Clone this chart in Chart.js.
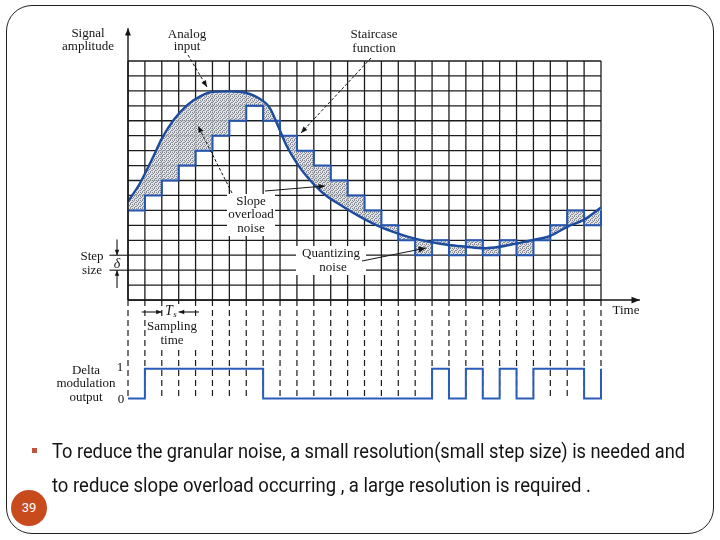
<!DOCTYPE html>
<html>
<head>
<meta charset="utf-8">
<script src="https://cdn.jsdelivr.net/npm/chart.js@4.4.1/dist/chart.umd.min.js"></script>
<style>
  html, body { margin: 0; padding: 0; background: #fff; }
  #wrap { position: relative; width: 720px; height: 540px; overflow: hidden; }
  #chart { position: absolute; left: 0; top: 0; }
  #frame { position: absolute; left: 6px; top: 5px; width: 708px; height: 529px; border: 1.3px solid #222; border-radius: 26px; box-sizing: border-box; pointer-events: none; }
  .txt { position: absolute; left: 52px; white-space: nowrap; font-family: "Liberation Sans Narrow", "Roboto", sans-serif; font-size: 20px; line-height: 20px; color: #141414; transform-origin: 0 0; }
  #l1 { top: 441px; }
  #l2 { top: 475px; }
  #bullet { position: absolute; left: 32px; top: 448px; width: 5px; height: 5px; background: #c0573a; }
  #page { position: absolute; left: 11px; top: 490px; width: 36px; height: 36px; border-radius: 50%; background: #c84b1e; color: #fff; font: 13px "Liberation Sans Narrow", "Roboto", sans-serif; text-align: center; line-height: 36px; }
</style>
</head>
<body>
<div id="wrap">
  <canvas id="chart" width="720" height="540"></canvas>
  <div id="frame"></div>
  <div id="bullet"></div>
  <div class="txt" id="l1">To reduce the granular noise, a small resolution(small step size) is needed and</div>
  <div class="txt" id="l2">to reduce slope overload occurring , a large resolution is required .</div>
  <div id="page">39</div>
</div>
<script>
// sample index k = 0..28 (one grid column = one sampling period Ts)
const sampleIndex = [0, 1, 2, 3, 4, 5, 6, 7, 8, 9, 10, 11, 12, 13, 14, 15, 16, 17, 18, 19, 20, 21, 22, 23, 24, 25, 26, 27, 28];
// staircase level (in steps of delta) held during each sampling period
const staircase = [6, 7, 8, 9, 10, 11, 12, 13, 12, 11, 10, 9, 8, 7, 6, 5, 4, 3, 4, 3, 4, 3, 4, 3, 4, 5, 6, 5, 6];
// delta modulation output bit for each period
const dmOutput = [0, 1, 1, 1, 1, 1, 1, 1, 0, 0, 0, 0, 0, 0, 0, 0, 0, 0, 1, 0, 1, 0, 1, 0, 1, 1, 1, 0, 1];
// analog input (time in Ts, amplitude in delta)
const analogT = [0, 0.7, 1.5, 2, 2.7, 3.5, 4.3, 5, 6, 6.6, 7.6, 8.4, 8.9, 9.4, 10, 10.6, 11.6, 12.6, 13.7, 14.7, 15.7, 16.7, 17.7, 19, 20, 21, 22, 23, 24, 25, 26, 27, 28];
const analogLevel = [6.6, 7.8, 9.6, 10.8, 12.05, 13.05, 13.65, 13.93, 13.97, 13.94, 13.6, 12.85, 11.6, 10.3, 9.15, 8.25, 7.1, 6.35, 5.6, 5.02, 4.57, 4.2, 3.93, 3.68, 3.57, 3.47, 3.57, 3.79, 4.02, 4.3, 4.9, 5.38, 6.2];
const gridLevels = [0, 1, 2, 3, 4, 5, 6, 7, 8, 9, 10, 11, 12, 13, 14, 15, 16];

// layout (pixels)
const TOP = 61, STEP_PX = 14.94, LEVEL_MAX = 16, LEVEL_MIN = -7;
const BOTTOM = TOP + (LEVEL_MAX - LEVEL_MIN) * STEP_PX;
const OUT_ZERO_Y = 398.5, OUT_ONE_PX = 29.7;
const outMin = -(BOTTOM - OUT_ZERO_Y) / OUT_ONE_PX;
const outMax = outMin + (BOTTOM - TOP) / OUT_ONE_PX;

const BLUE = "#2456b0";
const SERIF = '13px "Liberation Serif", "DejaVu Serif", serif';

function stipple() {
    const c = document.createElement("canvas");
    c.width = 4; c.height = 4;
    const g = c.getContext("2d");
    g.fillStyle = "rgba(222,225,228,0.85)";
    g.fillRect(0, 0, 4, 4);
    g.fillStyle = "rgba(110,116,125,0.8)";
    [[0, 0], [2, 0], [1, 1], [3, 2], [0, 2], [2, 3]].forEach(([x, y]) => g.fillRect(x, y, 1, 1));
    return g.createPattern(c, "repeat");
}

function head(ctx, x1, y1, x2, y2, size) {
    const a = Math.atan2(y2 - y1, x2 - x1);
    ctx.beginPath();
    ctx.moveTo(x2, y2);
    ctx.lineTo(x2 - size * Math.cos(a - 0.38), y2 - size * Math.sin(a - 0.38));
    ctx.lineTo(x2 - size * Math.cos(a + 0.38), y2 - size * Math.sin(a + 0.38));
    ctx.closePath();
    ctx.fill();
}

function arrow(ctx, x1, y1, x2, y2, dash, size) {
    ctx.setLineDash(dash || []);
    ctx.beginPath();
    ctx.moveTo(x1, y1);
    ctx.lineTo(x2, y2);
    ctx.stroke();
    ctx.setLineDash([]);
    head(ctx, x1, y1, x2, y2, size || 7);
}

function line(ctx, x1, y1, x2, y2) {
    ctx.beginPath();
    ctx.moveTo(x1, y1);
    ctx.lineTo(x2, y2);
    ctx.stroke();
}

const diagram = {
    id: "diagram",
    beforeDatasetsDraw(chart) {
        const ctx = chart.ctx;
        const sx = chart.scales.x, sy = chart.scales.y, so = chart.scales.yOut;
        const px = (v) => sx.getPixelForValue(v);
        const py = (v) => sy.getPixelForValue(v);
        ctx.save();
        ctx.strokeStyle = "#1c1c1c";
        ctx.lineWidth = 1.3;
        // solid grid above the time axis
        sampleIndex.forEach((k) => line(ctx, px(k), py(16), px(k), py(0)));
        gridLevels.forEach((l) => line(ctx, px(0), py(l), px(28), py(l)));
        // dashed sampling instants below the time axis
        ctx.setLineDash([6, 4]);
        ctx.lineWidth = 1.2;
        sampleIndex.forEach((k) => line(ctx, px(k), py(0), px(k), so.getPixelForValue(-0.05)));
        ctx.setLineDash([]);
        // white backing behind labels
        ctx.fillStyle = "#fff";
        ctx.fillRect(227, 194, 48, 42);
        ctx.fillRect(296, 246, 70, 29);
        ctx.fillRect(146, 319, 52, 30);
        ctx.fillRect(164, 304, 16, 14);
        ctx.restore();
    },
    afterDraw(chart) {
        const ctx = chart.ctx;
        const sx = chart.scales.x, sy = chart.scales.y;
        const px = (v) => sx.getPixelForValue(v);
        const py = (v) => sy.getPixelForValue(v);
        ctx.save();
        ctx.strokeStyle = "#151515";
        ctx.fillStyle = "#151515";
        ctx.lineWidth = 1.4;
        // axes
        arrow(ctx, px(0), py(0), px(0), py(18.2), null, 8);
        arrow(ctx, px(0), py(0), px(30.3), py(0), null, 9);
        // step size marks
        ctx.lineWidth = 1.1;
        line(ctx, px(-1.1), py(3), px(0), py(3));
        line(ctx, px(-1.1), py(2), px(0), py(2));
        arrow(ctx, px(-0.65), py(4.05), px(-0.65), py(3), null, 6);
        arrow(ctx, px(-0.65), py(0.8), px(-0.65), py(2), null, 6);
        // Ts marks
        arrow(ctx, px(0.82), py(-0.8), px(2), py(-0.8), null, 6);
        arrow(ctx, px(4.2), py(-0.8), px(3), py(-0.8), null, 6);
        // leaders
        ctx.lineWidth = 1;
        arrow(ctx, 188, 55, 207, 87, [3, 2], 7);
        arrow(ctx, 371, 58, 301, 133, [3, 2], 7);
        arrow(ctx, 232, 193, 198, 126, [3, 2], 7);
        arrow(ctx, 265, 191, 325, 186, null, 7);
        arrow(ctx, 362, 261, 426, 248, null, 8);
        // labels
        ctx.font = SERIF;
        ctx.textAlign = "center";
        ctx.textBaseline = "middle";
        const labels = [
            ["Signal", 88, 34], ["amplitude", 88, 47],
            ["Analog", 187, 35], ["input", 187, 47],
            ["Staircase", 374, 35], ["function", 374, 49],
            ["Slope", 251, 202], ["overload", 251, 215], ["noise", 251, 229],
            ["Quantizing", 331, 254], ["noise", 333, 268],
            ["Step", 92, 257], ["size", 92, 271],
            ["Sampling", 172, 327], ["time", 172, 341],
            ["Time", 626, 311],
            ["Delta", 86, 371], ["modulation", 86, 384], ["output", 86, 398],
            ["1", 120, 368], ["0", 121, 400]
        ];
        labels.forEach(([t, x, y]) => ctx.fillText(t, x, y));
        ctx.font = 'italic 14px "Liberation Serif", "DejaVu Serif", serif';
        ctx.fillText("\u03b4", 117, 264);
        ctx.fillText("T", 169, 311);
        ctx.font = 'italic 9px "Liberation Serif", "DejaVu Serif", serif';
        ctx.fillText("s", 175, 315);
        ctx.restore();
    }
};

const chart = new Chart(document.getElementById("chart"), {
    type: "line",
    data: {
        datasets: [
            {
                label: "Staircase function",
                data: sampleIndex.map((k, i) => ({ x: k, y: staircase[i] })),
                stepped: "before",
                borderColor: BLUE,
                borderWidth: 2,
                backgroundColor: stipple(),
                fill: 1,
                pointRadius: 0,
                order: 2,
                clip: 4
            },
            {
                label: "Analog input",
                data: analogT.map((t, i) => ({ x: t, y: analogLevel[i] })),
                borderColor: "#1d4c9e",
                borderWidth: 2.4,
                cubicInterpolationMode: "monotone",
                fill: false,
                pointRadius: 0,
                order: 1,
                clip: 4
            },
            {
                label: "Delta modulation output",
                data: sampleIndex.map((k, i) => ({ x: k, y: dmOutput[i] })),
                yAxisID: "yOut",
                stepped: "before",
                borderColor: "#2a5db8",
                borderWidth: 2,
                fill: false,
                pointRadius: 0,
                order: 1,
                clip: 4
            }
        ]
    },
    options: {
        responsive: false,
        animation: false,
        events: [],
        layout: { padding: { left: 128, right: 119, top: TOP, bottom: 540 - BOTTOM } },
        plugins: { legend: { display: false }, tooltip: { enabled: false } },
        scales: {
            x: { type: "linear", min: 0, max: 28, display: false },
            y: { type: "linear", min: LEVEL_MIN, max: LEVEL_MAX, display: false },
            yOut: { type: "linear", min: outMin, max: outMax, display: false }
        }
    },
    plugins: [diagram]
});

function fitLine(id, width) {
    const el = document.getElementById(id);
    el.style.transform = "none";
    const w = el.getBoundingClientRect().width;
    if (w > 0) el.style.transform = "scaleX(" + (width / w) + ")";
}
function fitText() {
    fitLine("l1", 633);
    fitLine("l2", 539);
}
fitText();
if (document.fonts) document.fonts.ready.then(fitText);
</script>
</body>
</html>
